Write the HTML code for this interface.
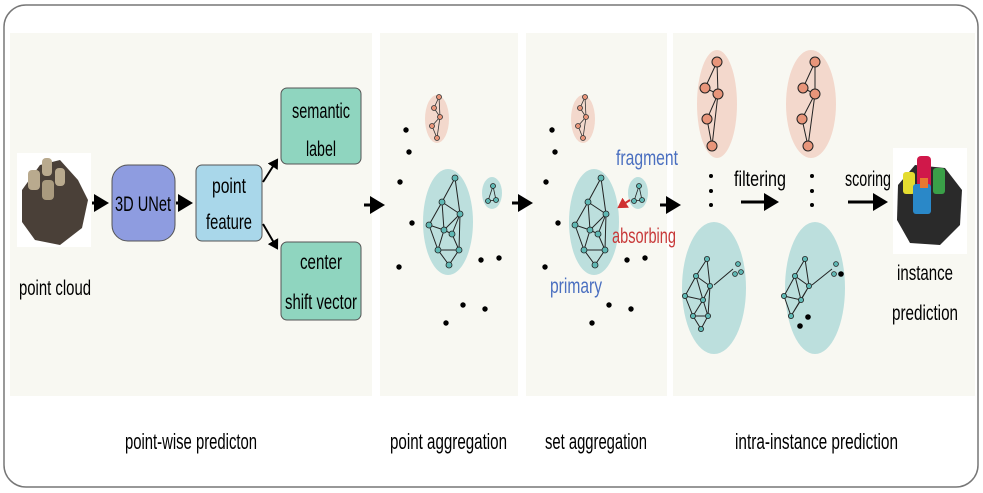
<!DOCTYPE html>
<html><head><meta charset="utf-8"><style>
html,body{margin:0;padding:0;background:#fff;}
svg{display:block;}
text{font-family:"Liberation Sans",sans-serif;}
</style></head><body>
<svg width="983" height="493" viewBox="0 0 983 493" xmlns="http://www.w3.org/2000/svg">
<defs>
<marker id="ah" markerWidth="6" markerHeight="6" refX="4" refY="3" orient="auto" markerUnits="strokeWidth"><path d="M0,0 L5,3 L0,6 z" fill="#000"/></marker>
<marker id="ahr" markerWidth="6" markerHeight="6" refX="4" refY="3" orient="auto" markerUnits="strokeWidth"><path d="M0,0 L5,3 L0,6 z" fill="#d03030"/></marker>
</defs>
<rect x="4" y="5" width="974" height="482" rx="22" fill="#fff" stroke="#777" stroke-width="1.5"/>
<rect x="10" y="33" width="362" height="363" fill="#f8f8f2"/>
<rect x="380" y="33" width="138" height="363" fill="#f8f8f2"/>
<rect x="526" y="33" width="141" height="363" fill="#f8f8f2"/>
<rect x="673" y="33" width="302" height="363" fill="#f8f8f2"/>

<!-- point cloud -->
<rect x="17" y="153" width="74" height="94" fill="#fff"/>
<path d="M22,190 L40,165 L60,160 L78,180 L88,200 L82,228 L60,245 L35,240 L22,222 z" fill="#4a4038"/>
<rect x="28" y="170" width="12" height="20" rx="4" fill="#b9aa8e"/>
<rect x="42" y="158" width="10" height="18" rx="4" fill="#b9aa8e"/>
<rect x="55" y="168" width="10" height="18" rx="4" fill="#b9aa8e"/>
<rect x="42" y="180" width="12" height="20" rx="4" fill="#a99a7e"/>
<text x="55" y="295" font-size="21" text-anchor="middle" textLength="72" lengthAdjust="spacingAndGlyphs">point cloud</text>

<line x1="92" y1="203" x2="106" y2="203" stroke="#000" stroke-width="3" marker-end="url(#ah)"/>
<rect x="112" y="165" width="63" height="76" rx="16" fill="#8e9ce0" stroke="#555" stroke-width="1"/>
<text x="143" y="211" font-size="21" text-anchor="middle" textLength="56" lengthAdjust="spacingAndGlyphs">3D UNet</text>
<line x1="176" y1="203" x2="190" y2="203" stroke="#000" stroke-width="3" marker-end="url(#ah)"/>
<rect x="196" y="165" width="66" height="76" rx="6" fill="#a9d7ea" stroke="#555" stroke-width="1"/>
<text x="229" y="193" font-size="21" text-anchor="middle" textLength="34" lengthAdjust="spacingAndGlyphs">point</text>
<text x="229" y="229" font-size="21" text-anchor="middle" textLength="46" lengthAdjust="spacingAndGlyphs">feature</text>
<line x1="263" y1="182" x2="277" y2="160" stroke="#000" stroke-width="2" marker-end="url(#ah)"/>
<line x1="263" y1="224" x2="277" y2="248" stroke="#000" stroke-width="2" marker-end="url(#ah)"/>
<rect x="281" y="88" width="80" height="76" rx="6" fill="#8fd5bf" stroke="#555" stroke-width="1"/>
<text x="321" y="118" font-size="21" text-anchor="middle" textLength="58" lengthAdjust="spacingAndGlyphs">semantic</text>
<text x="321" y="156" font-size="21" text-anchor="middle" textLength="30" lengthAdjust="spacingAndGlyphs">label</text>
<rect x="281" y="242" width="80" height="78" rx="6" fill="#8fd5bf" stroke="#555" stroke-width="1"/>
<text x="321" y="269" font-size="21" text-anchor="middle" textLength="42" lengthAdjust="spacingAndGlyphs">center</text>
<text x="321" y="309" font-size="21" text-anchor="middle" textLength="72" lengthAdjust="spacingAndGlyphs">shift vector</text>

<line x1="364" y1="205" x2="382" y2="205" stroke="#000" stroke-width="3" marker-end="url(#ah)"/>

<!-- panel 2 -->
<g id="p2">
<ellipse cx="437" cy="119" rx="12" ry="24" fill="#f3d8cc"/>
<g stroke="#333" stroke-width="0.8" fill="#e8957a"><path d="M439,97 L434,108 L440,117 L432,126 L437,138 M439,97 L440,117 L437,138" fill="none"/>
<circle cx="439" cy="97" r="2.5"/><circle cx="434" cy="108" r="2.5"/><circle cx="440" cy="117" r="2.5"/><circle cx="432" cy="126" r="2.5"/><circle cx="437" cy="138" r="2.5"/></g>
<ellipse cx="448" cy="222" rx="25" ry="53" fill="#bcdfdd"/>
<g stroke="#222" stroke-width="1" fill="none"><path d="M455,178 L442,202 L460,214 L455,178 M442,202 L429,225 L444,230 L442,202 M429,225 L438,250 L459,250 L460,214 L444,230 L438,250 M444,230 L452,234 L459,250 L449,265 L438,250 L459,250 M452,234 L460,214"/></g>
<g fill="#5fb8b4" stroke="#222" stroke-width="0.8"><circle cx="455" cy="178" r="3"/><circle cx="442" cy="202" r="3"/><circle cx="460" cy="214" r="3"/><circle cx="429" cy="225" r="3"/><circle cx="444" cy="230" r="3"/><circle cx="452" cy="234" r="3"/><circle cx="438" cy="250" r="3"/><circle cx="459" cy="250" r="3"/><circle cx="449" cy="265" r="3"/></g>
<ellipse cx="492" cy="193" rx="10" ry="16" fill="#bcdfdd"/>
<g stroke="#222" stroke-width="0.8" fill="#5fb8b4"><path d="M493,186 L488,201 L496,200 z" fill="none"/><circle cx="493" cy="186" r="2.5"/><circle cx="488" cy="201" r="2.5"/><circle cx="496" cy="200" r="2.5"/></g>
<g fill="#000"><circle cx="406" cy="130" r="2.7"/><circle cx="409" cy="152" r="2.7"/><circle cx="400" cy="182" r="2.7"/><circle cx="412" cy="223" r="2.7"/><circle cx="399" cy="267" r="2.7"/><circle cx="481" cy="260" r="2.7"/><circle cx="499" cy="258" r="2.7"/><circle cx="463" cy="305" r="2.7"/><circle cx="485" cy="309" r="2.7"/><circle cx="446" cy="323" r="2.7"/></g>
</g>
<line x1="512" y1="203" x2="530" y2="203" stroke="#000" stroke-width="3" marker-end="url(#ah)"/>

<!-- panel 3 -->
<use href="#p2" transform="translate(146,0)"/>
<text x="647" y="165" font-size="21" fill="#4a6fc0" text-anchor="middle" textLength="62" lengthAdjust="spacingAndGlyphs">fragment</text>
<text x="644" y="243" font-size="21" fill="#c83a3a" text-anchor="middle" textLength="64" lengthAdjust="spacingAndGlyphs">absorbing</text>
<text x="576" y="293" font-size="21" fill="#4a6fc0" text-anchor="middle" textLength="52" lengthAdjust="spacingAndGlyphs">primary</text>
<line x1="630" y1="200" x2="619" y2="207" stroke="#d03030" stroke-width="2" marker-end="url(#ahr)"/>
<line x1="660" y1="205" x2="678" y2="205" stroke="#000" stroke-width="3" marker-end="url(#ah)"/>

<!-- panel 4 -->
<ellipse cx="717" cy="104" rx="20" ry="54" fill="#f3d8cc"/>
<ellipse cx="811" cy="104" rx="25" ry="54" fill="#f3d8cc"/>
<g stroke="#222" stroke-width="1" fill="none"><path d="M717,62 L705,88 L718,94 L707,119 L712,146 M717,62 L718,94 L712,146"/><path d="M815,62 L803,88 L815,94 L802,119 L808,146 M815,62 L815,94 L808,146"/></g>
<g fill="#e8957a" stroke="#222" stroke-width="1"><circle cx="717" cy="62" r="5"/><circle cx="705" cy="88" r="5"/><circle cx="718" cy="94" r="5"/><circle cx="707" cy="119" r="5"/><circle cx="712" cy="146" r="5"/><circle cx="815" cy="62" r="5"/><circle cx="803" cy="88" r="5"/><circle cx="815" cy="94" r="5"/><circle cx="802" cy="119" r="5"/><circle cx="808" cy="146" r="5"/></g>
<g fill="#000"><circle cx="711" cy="176" r="2"/><circle cx="711" cy="191" r="2"/><circle cx="711" cy="205" r="2"/><circle cx="812" cy="176" r="2"/><circle cx="812" cy="191" r="2"/><circle cx="812" cy="205" r="2"/></g>
<ellipse cx="714" cy="288" rx="32" ry="66" fill="#bcdfdd"/>
<ellipse cx="815" cy="288" rx="30" ry="66" fill="#bcdfdd"/>
<g stroke="#222" stroke-width="1" fill="none"><path d="M707,259 L696,276 L710,286 L707,259 M696,276 L685,296 L703,300 L696,276 M685,296 L693,316 L708,316 L710,286 L703,300 L693,316 M703,300 L708,316 L701,329 L693,316 M733,269 L714,285"/>
<path d="M805,259 L795,276 L809,286 L805,259 M795,276 L784,296 L801,300 L795,276 M784,296 L791,316 L809,286 L801,300 L791,316 M832,269 L812,285"/></g>
<g fill="#5fb8b4" stroke="#222" stroke-width="0.8"><circle cx="707" cy="259" r="2.6"/><circle cx="696" cy="276" r="2.6"/><circle cx="710" cy="286" r="2.6"/><circle cx="685" cy="296" r="2.6"/><circle cx="703" cy="300" r="2.6"/><circle cx="693" cy="316" r="2.6"/><circle cx="708" cy="316" r="2.6"/><circle cx="701" cy="329" r="2.6"/><circle cx="738" cy="264" r="2.4"/><circle cx="735" cy="274" r="2.4"/><circle cx="741" cy="272" r="2.4"/>
<circle cx="805" cy="259" r="2.6"/><circle cx="795" cy="276" r="2.6"/><circle cx="809" cy="286" r="2.6"/><circle cx="784" cy="296" r="2.6"/><circle cx="801" cy="300" r="2.6"/><circle cx="791" cy="316" r="2.6"/><circle cx="836" cy="264" r="2.4"/><circle cx="834" cy="274" r="2.4"/></g>
<g fill="#000"><circle cx="841" cy="274" r="2.8"/><circle cx="808" cy="317" r="2.8"/><circle cx="800" cy="326" r="2.8"/></g>
<text x="760" y="186" font-size="21" text-anchor="middle" textLength="52" lengthAdjust="spacingAndGlyphs">filtering</text>
<line x1="741" y1="202" x2="776" y2="202" stroke="#000" stroke-width="3" marker-end="url(#ah)"/>
<text x="868" y="186" font-size="21" text-anchor="middle" textLength="46" lengthAdjust="spacingAndGlyphs">scoring</text>
<line x1="848" y1="202" x2="885" y2="202" stroke="#000" stroke-width="3" marker-end="url(#ah)"/>
<rect x="893" y="148" width="74" height="106" fill="#fff"/>
<path d="M898,185 L915,165 L945,168 L962,190 L960,225 L940,245 L910,243 L897,220 z" fill="#2a2a2a"/>
<rect x="903" y="172" width="12" height="22" rx="3" fill="#e4dc30"/>
<rect x="917" y="156" width="14" height="32" rx="4" fill="#d0184a"/>
<rect x="933" y="168" width="12" height="26" rx="3" fill="#3aa048"/>
<rect x="913" y="184" width="18" height="30" rx="3" fill="#2a88c8"/>
<rect x="920" y="178" width="8" height="10" fill="#e87830"/>
<text x="925" y="280" font-size="21" text-anchor="middle" textLength="56" lengthAdjust="spacingAndGlyphs">instance</text>
<text x="925" y="320" font-size="21" text-anchor="middle" textLength="66" lengthAdjust="spacingAndGlyphs">prediction</text>

<g font-size="22">
<text x="125" y="449" textLength="132" lengthAdjust="spacingAndGlyphs">point-wise predicton</text>
<text x="390" y="449" textLength="117" lengthAdjust="spacingAndGlyphs">point aggregation</text>
<text x="545" y="449" textLength="102" lengthAdjust="spacingAndGlyphs">set aggregation</text>
<text x="735" y="449" textLength="163" lengthAdjust="spacingAndGlyphs">intra-instance prediction</text>
</g>
</svg>
</body></html>
